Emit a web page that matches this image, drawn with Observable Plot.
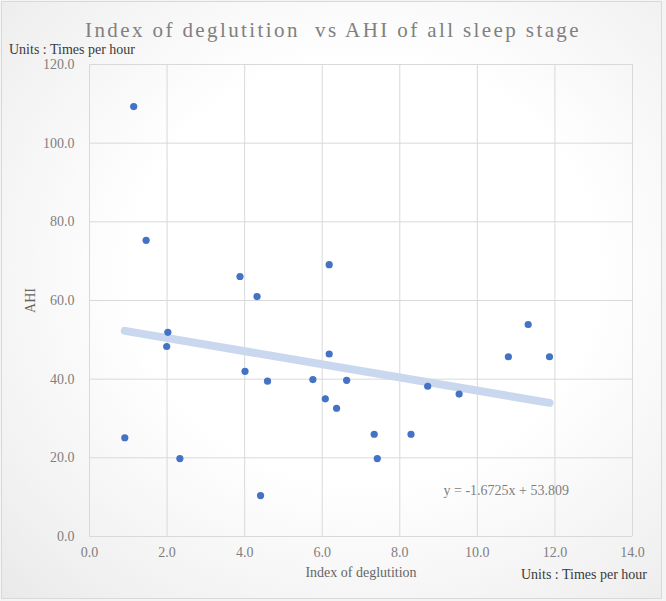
<!DOCTYPE html>
<html>
<head>
<meta charset="utf-8">
<script src="https://cdn.jsdelivr.net/npm/d3@7"></script>
<script src="https://cdn.jsdelivr.net/npm/@observablehq/plot@0.6"></script>
<style>
  html, body { margin: 0; padding: 0; background: #f4f4f4; }
  #wrap {
    position: relative; width: 666px; height: 601px; overflow: hidden;
    font-family: "Liberation Serif", "DejaVu Serif", serif;
  }
  #card {
    position: absolute; left: 1px; top: 1px; width: 659px; height: 596px;
    border: 1px solid #d9d9d9;
    background: radial-gradient(ellipse at 55% 45%, #ffffff 45%, #f0f0f0 85%, #e9e9e9 100%);
  }
  #chart { position: absolute; left: 0; top: 0; }
  .lbl { position: absolute; white-space: nowrap; line-height: 1; }
  #title { left: 0; width: 666px; text-align: center; top: 20px; font-size: 21px; letter-spacing: 2.4px; color: #808080; }
  #unitsY { left: 9px; top: 43px; font-size: 14px; color: #3a3a3a; }
  #unitsX { left: 521px; top: 568px; font-size: 14px; color: #3a3a3a; }
</style>
</head>
<body>
<div id="wrap">
  <div id="card"></div>
  <div id="chart"></div>
  <div class="lbl" id="title">Index of deglutition&nbsp; vs AHI of all sleep stage</div>
  <div class="lbl" id="unitsY">Units : Times per hour</div>
  <div class="lbl" id="unitsX">Units : Times per hour</div>
</div>
<script>
// Data
const deglutition = [1.14, 1.46, 3.88, 4.32, 6.18, 2.02, 1.99, 4.01, 4.59, 5.76, 6.18, 6.08, 6.37, 6.63, 0.91, 2.33, 4.41, 7.34, 7.42, 10.80, 11.31, 11.86, 8.72, 9.53, 8.29];
const ahi         = [109.3, 75.3, 66.1, 61.0, 69.1, 51.9, 48.3, 42.0, 39.5, 39.9, 46.4, 35.0, 32.6, 39.7, 25.1, 19.8, 10.4, 26.0, 19.8, 45.7, 53.9, 45.7, 38.2, 36.2, 26.0];
const xTicks = [0, 2, 4, 6, 8, 10, 12, 14];
const yTicks = [0, 20, 40, 60, 80, 100, 120];
const slope = -1.6725;
const intercept = 53.809;
const equationLabel = "y = -1.6725x + 53.809";
const xLabel = "Index of deglutition";
const yLabel = "AHI";

const points = deglutition.map((x, i) => ({x, y: ahi[i]}));
const [xmin, xmax] = d3.extent(deglutition);
const trend = [xmin, xmax].map(x => ({x, y: intercept + slope * x}));

const chart = Plot.plot({
  width: 666,
  height: 601,
  marginLeft: 89,
  marginRight: 34,
  marginTop: 64,
  marginBottom: 65,
  style: {background: "transparent", fontFamily: "'Liberation Serif', serif", fontSize: "14px", color: "#7f7f7f", overflow: "visible"},
  x: {domain: [0, 14], ticks: xTicks, tickFormat: d => d.toFixed(1), tickSize: 0, tickPadding: 11, label: null},
  y: {domain: [0, 120], ticks: yTicks, tickFormat: d => d.toFixed(1), tickSize: 0, tickPadding: 15, label: null},
  marks: [
    Plot.ruleY(yTicks, {y: d => d, stroke: "#d9d9d9", strokeWidth: 1}),
    Plot.ruleX(xTicks, {x: d => d, stroke: "#d9d9d9", strokeWidth: 1}),
    Plot.line(trend, {x: "x", y: "y", stroke: "#cad8ef", strokeWidth: 8, strokeLinecap: "round"}),
    Plot.dot(points, {x: "x", y: "y", r: 3.6, fill: "#4472c4", stroke: "none"}),
    Plot.text([equationLabel], {frameAnchor: "bottom-left", text: d => d, dx: 354, dy: -46, textAnchor: "start", lineAnchor: "middle", fill: "#7f7f7f", fontSize: 14}),
    Plot.text([xLabel], {frameAnchor: "bottom", text: d => d, dy: 36, textAnchor: "middle", lineAnchor: "middle", fill: "#666666", fontSize: 14}),
    Plot.text([yLabel], {frameAnchor: "left", text: d => d, dx: -59, rotate: -90, textAnchor: "middle", lineAnchor: "middle", fill: "#666666", fontSize: 14})
  ]
});
document.getElementById("chart").appendChild(chart);
</script>
</body>
</html>
